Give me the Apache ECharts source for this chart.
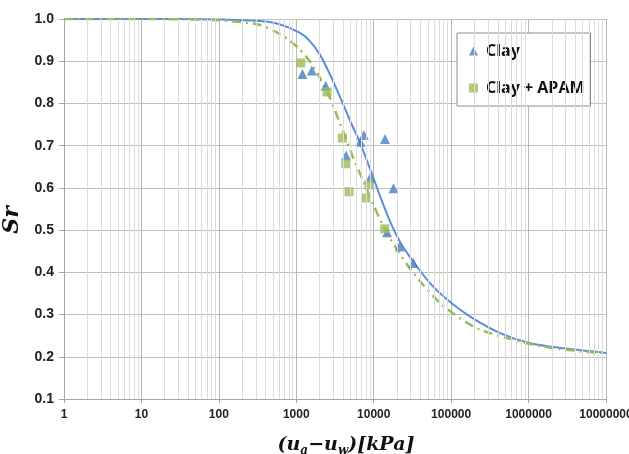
<!DOCTYPE html>
<html>
<head>
<meta charset="utf-8">
<script src="https://cdn.jsdelivr.net/npm/echarts@6/dist/echarts.min.js"></script>
<style>
  html, body { margin: 0; padding: 0; background: #fff; }
  #main { width: 629px; height: 454px; }
</style>
</head>
<body>
<div id="main"></div>
<script>
// measured points (suction kPa, Sr)
var clayPts = [
  [1200, 0.870], [1590, 0.878], [2400, 0.842], [4400, 0.677], [6730, 0.709],
  [7450, 0.725], [8980, 0.624], [14000, 0.716], [18000, 0.599], [14900, 0.495],
  [21700, 0.461], [32600, 0.422]
];
var apamPts = [
  [1140, 0.896], [2500, 0.827], [3940, 0.718], [4360, 0.657], [4810, 0.591],
  [8640, 0.607], [8050, 0.576], [13900, 0.503]
];
// fitted curves
var clayFit = [
  [1, 1.0], [10, 1.0], [100, 0.999], [340, 0.995], [618, 0.987], [1120, 0.967],
  [1507, 0.947], [2028, 0.915], [2735, 0.868], [3680, 0.815], [4955, 0.759],
  [6668, 0.706], [8974, 0.645], [12106, 0.580], [16293, 0.520], [21928, 0.472],
  [32584, 0.425], [53580, 0.374], [87900, 0.336], [176000, 0.295],
  [430000, 0.256], [1050000, 0.232], [2800000, 0.220], [10000000, 0.209]
];
var apamFit = [
  [1, 1.0], [10, 1.0], [100, 0.997], [340, 0.986], [618, 0.964], [832, 0.948],
  [1096, 0.929], [1507, 0.899], [2028, 0.860], [2735, 0.812], [3680, 0.752],
  [5470, 0.670], [7362, 0.615], [9908, 0.560], [14028, 0.500], [18880, 0.461],
  [28054, 0.414], [41783, 0.374], [72100, 0.327], [130600, 0.291],
  [237000, 0.264], [778000, 0.236], [2100000, 0.220], [10000000, 0.208]
];
var seriesNames = ['Clay', 'Clay + APAM'];

// light grid lines at 2..9 within each decade
var minorLines = [];
for (var k = 0; k < 7; k++) {
  for (var d = 2; d <= 9; d++) minorLines.push({ xAxis: d * Math.pow(10, k) });
}

var chart = echarts.init(document.getElementById('main'));
var labelFont = { fontFamily: 'Liberation Sans', fontWeight: 'bold', color: '#222' };

chart.setOption({
  animation: false,
  grid: { left: 64, right: 23, top: 19, bottom: 55, outerBoundsMode: 'none', containLabel: false },
  legend: {
    data: [
      { name: seriesNames[0], icon: 'triangle' },
      { name: seriesNames[1], icon: 'rect' }
    ],
    orient: 'vertical',
    left: 457, top: 33,
    itemWidth: 9, itemHeight: 9,
    itemGap: 21,
    padding: [10, 6, 10, 12],
    backgroundColor: '#fff',
    borderColor: '#8c8c8c', borderWidth: 1,
    textStyle: { fontFamily: 'Open Sans', fontSize: 16, fontWeight: 'bold', color: '#111', padding: [0, 0, 0, 3] }
  },
  xAxis: {
    type: 'log', logBase: 10, min: 1, max: 10000000,
    name: '{t|(u}{s|a}{t|−u}{s|w}{t|)[kPa]}',
    nameLocation: 'middle', nameGap: 34,
    nameTextStyle: {
      padding: [0, 0, 0, 22],
      rich: {
        t: { fontFamily: 'DejaVu Serif', fontStyle: 'italic', fontWeight: 'bold', fontSize: 19, color: '#111', lineHeight: 24 },
        s: { fontFamily: 'DejaVu Serif', fontStyle: 'italic', fontWeight: 'bold', fontSize: 12, color: '#111', lineHeight: 24, verticalAlign: 'bottom', padding: [8, 0, 0, 0] }
      }
    },
    axisLine: { lineStyle: { color: '#a6a6a6' } },
    axisTick: { show: true, length: 4, lineStyle: { color: '#a6a6a6' } },
    axisLabel: Object.assign({ fontSize: 12, margin: 10, formatter: function (v) { return String(v); } }, labelFont),
    splitLine: { show: true, lineStyle: { color: '#b8b8b8', width: 1 } }
  },
  yAxis: {
    type: 'value', min: 0.1, max: 1.0, interval: 0.1,
    name: 'Sr', nameLocation: 'middle', nameGap: 24, nameRotate: 90,
    nameTextStyle: { fontFamily: 'DejaVu Serif', fontStyle: 'italic', fontWeight: 'bold', fontSize: 22, color: '#111', padding: [0, 22, 0, 0] },
    axisLine: { show: true, lineStyle: { color: '#a6a6a6' } },
    axisTick: { show: true, length: 5, lineStyle: { color: '#a6a6a6' } },
    axisLabel: Object.assign({ fontSize: 14, margin: 10, formatter: function (v) { return v.toFixed(1); } }, labelFont),
    splitLine: { show: true, lineStyle: { color: '#bfbfbf', width: 1 } }
  },
  series: [
    {
      name: 'minor', type: 'line', data: [], z: 0, silent: true,
      markLine: {
        silent: true, symbol: 'none', animation: false,
        label: { show: false },
        lineStyle: { color: '#dcdcdc', type: 'solid', width: 1 },
        data: minorLines
      }
    },
    {
      name: 'Clay fit', type: 'line', data: clayFit, smooth: 0.25, symbol: 'none',
      lineStyle: { color: '#5b8fd9', width: 2 }, z: 3
    },
    {
      name: 'Clay + APAM fit', type: 'line', data: apamFit, smooth: 0.25, symbol: 'none',
      lineStyle: { color: '#9bbb59', width: 2.5, type: [9, 5, 2, 5] }, z: 3
    },
    {
      name: seriesNames[0], type: 'scatter', data: clayPts, symbol: 'triangle', symbolSize: 10,
      itemStyle: { color: '#4a7ebb' }, z: 4
    },
    {
      name: seriesNames[1], type: 'scatter', data: apamPts, symbol: 'rect', symbolSize: 9,
      itemStyle: { color: '#9bbb59' }, z: 4
    }
  ]
});
</script>
</body>
</html>
